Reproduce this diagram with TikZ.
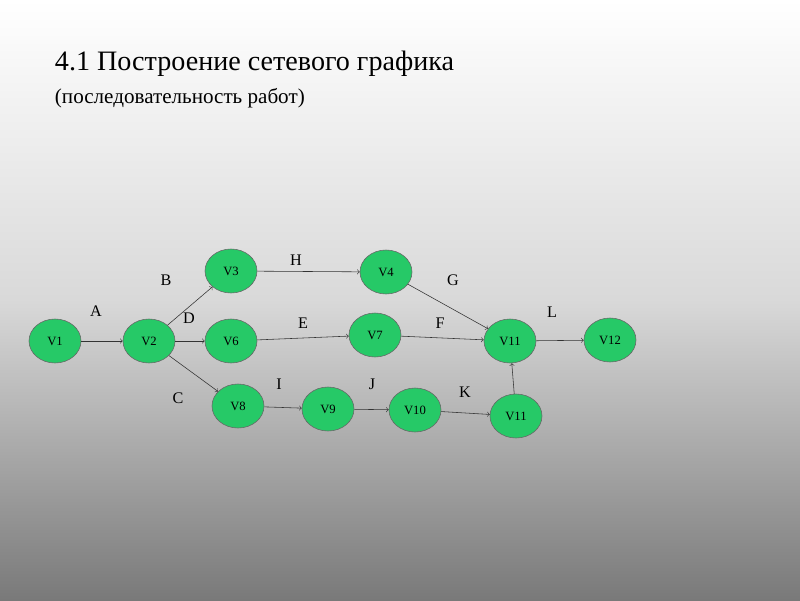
\documentclass[tikz,border=0pt]{standalone}
\usepackage{fontspec}
\setmainfont{Liberation Serif}
\usetikzlibrary{shapes.geometric}
\begin{document}
\begin{tikzpicture}[x=0.25mm,y=-0.25mm]
        \tikzset{vert/.style = {ellipse,draw=black!60,fill=green!60!cyan!75!black!85,minimum width=13mm,minimum height=11mm,inner sep=0pt,font=\fontsize{9}{10}\selectfont},
                 edge/.style = {->,> = to,draw=black!80},
                 lbl/.style = {font=\fontsize{11.5}{12}\selectfont}}
        \shade[top color=white,bottom color=gray!95!black,middle color=white!70!gray] (0,0) rectangle (800,600);
        \useasboundingbox (0,0) rectangle (800,600);
        \node[anchor=west,font=\fontsize{20}{24}\selectfont] (title) at (50,64) {4.1 Построение сетевого графика};
        \node[anchor=west,font=\fontsize{15}{18}\selectfont] (sub) at (50,98) {(последовательность работ)};
        
        \node[vert] (V1) at (55,341) {V1};
        \node[vert] (V2) at (149,341) {V2};
        \node[vert] (V3) at (231,271) {V3};
        \node[vert] (V4) at (386,272) {V4};
        \node[vert] (V6) at (231,341) {V6};
        \node[vert] (V7) at (375,335) {V7};
        \node[vert] (V11) at (510,341) {V11};
        \node[vert] (V12) at (610,340) {V12};
        \node[vert] (V8) at (238,406) {V8};
        \node[vert] (V9) at (328,409) {V9};
        \node[vert] (V10) at (415,410) {V10};
        \node[vert] (V11b) at (516,416) {V11};
        
        \draw[edge] (V1) to (V2);
        \draw[edge] (V2) to (V3);
        \draw[edge] (V2) to (V6);
        \draw[edge] (V2) to (V8);
        \draw[edge] (V3) to (V4);
        \draw[edge] (V6) to (V7);
        \draw[edge] (V8) to (V9);
        \draw[edge] (V9) to (V10);
        \draw[edge] (V10) to (V11b);
        \draw[edge] (V4) to (V11);
        \draw[edge] (V7) to (V11);
        \draw[edge] (V11b) to (V11);
        \draw[edge] (V11) to (V12);
        
        \node[lbl] (lA) at (96,311) {A};
        \node[lbl] (lB) at (166,280) {B};
        \node[lbl] (lD) at (189,318) {D};
        \node[lbl] (lC) at (178,398) {C};
        \node[lbl] (lH) at (296,260) {H};
        \node[lbl] (lE) at (303,323) {E};
        \node[lbl] (lI) at (279,384) {I};
        \node[lbl] (lJ) at (372,384) {J};
        \node[lbl] (lG) at (453,280) {G};
        \node[lbl] (lF) at (440,323) {F};
        \node[lbl] (lK) at (465,392) {K};
        \node[lbl] (lL) at (552,312) {L};
\end{tikzpicture}
\end{document}
